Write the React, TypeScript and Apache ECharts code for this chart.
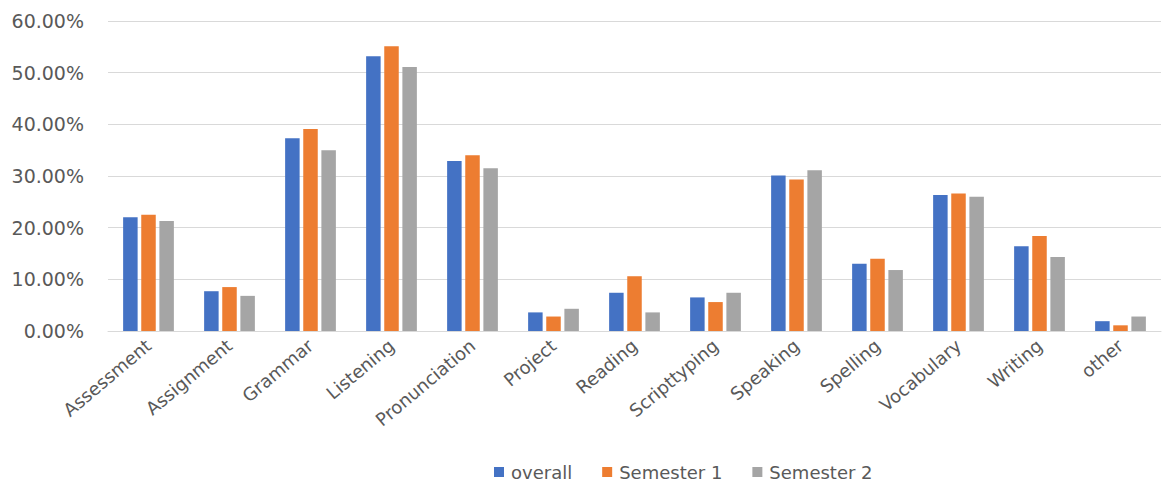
import React, { useEffect, useRef } from "react";
import * as echarts from "echarts";

// Share of responses per skill area (percent)
const categories = [
  "Assessment",
  "Assignment",
  "Grammar",
  "Listening",
  "Pronunciation",
  "Project",
  "Reading",
  "Scripttyping",
  "Speaking",
  "Spelling",
  "Vocabulary",
  "Writing",
  "other",
];

const overall = [22.0, 7.7, 37.3, 53.2, 32.9, 3.6, 7.4, 6.5, 30.1, 13.0, 26.3, 16.4, 1.9];
const semester1 = [22.5, 8.5, 39.1, 55.1, 34.0, 2.8, 10.6, 5.6, 29.3, 14.0, 26.6, 18.4, 1.1];
const semester2 = [21.3, 6.8, 35.0, 51.1, 31.5, 4.3, 3.6, 7.4, 31.1, 11.8, 26.0, 14.3, 2.8];

const seriesNames = ["overall", "Semester 1", "Semester 2"];
const seriesColors = ["#4472C4", "#ED7D31", "#A5A5A5"];

const FONT = "'DejaVu Sans', 'Noto Sans', sans-serif";
const TEXT = "#595959";

export default function App() {
  const ref = useRef<HTMLDivElement>(null);

  useEffect(() => {
    if (!ref.current) return;
    const chart = echarts.init(ref.current, undefined, { renderer: "svg" });
    const dataSets = [overall, semester1, semester2];
    chart.setOption({
      animation: false,
      backgroundColor: "#ffffff",
      textStyle: { fontFamily: FONT },
      grid: { left: 108, right: 2, top: 21, bottom: 153, containLabel: false },
      legend: {
        left: 489,
        top: 458,
        itemWidth: 10,
        itemHeight: 10,
        itemGap: 30,
        icon: "rect",
        textStyle: { fontFamily: FONT, fontSize: 18, color: TEXT, padding: [0, 0, 0, 2] },
        data: seriesNames,
      },
      xAxis: {
        type: "category",
        data: categories,
        axisLine: { lineStyle: { color: "#D9D9D9", width: 1 } },
        axisTick: { show: false },
        axisLabel: {
          rotate: 40,
          interval: 0,
          margin: 12,
          fontFamily: FONT,
          fontSize: 18,
          color: TEXT,
        },
      },
      yAxis: {
        type: "value",
        min: 0,
        max: 60,
        interval: 10,
        axisLine: { show: false },
        axisTick: { show: false },
        splitLine: { lineStyle: { color: "#D9D9D9", width: 1 } },
        axisLabel: {
          margin: 24,
          fontFamily: FONT,
          fontSize: 19,
          color: TEXT,
          formatter: (v: number) => v.toFixed(2) + "%",
        },
      },
      series: dataSets.map((d, i) => ({
        name: seriesNames[i],
        type: "bar",
        data: d,
        barWidth: 14.5,
        barGap: "25%",
        itemStyle: { color: seriesColors[i] },
      })),
    });
    return () => chart.dispose();
  }, []);

  return (
    <div
      ref={ref}
      style={{ position: "fixed", left: 0, top: 0, width: 1163, height: 484 }}
    />
  );
}
